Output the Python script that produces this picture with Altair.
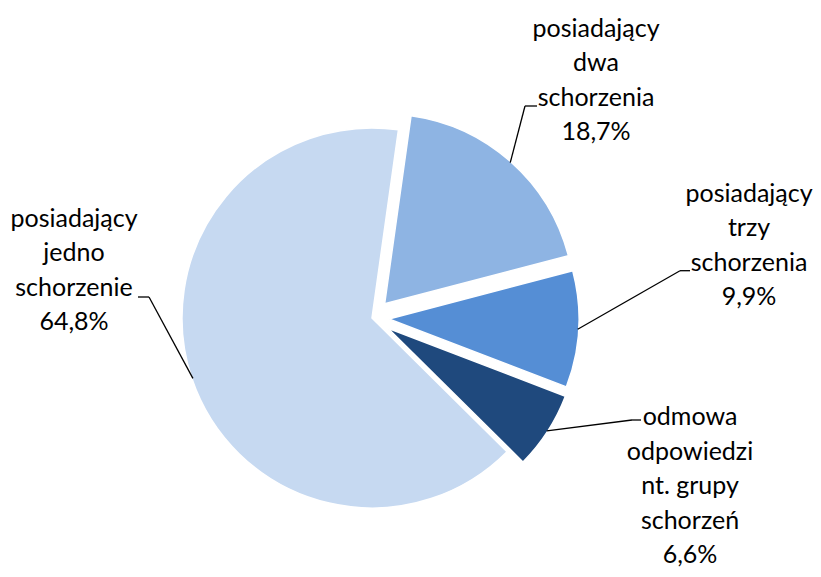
import altair as alt
import pandas as pd
import math

# --- data ---
categories = ["dwa", "trzy", "odmowa", "jedno"]
values = [18.7, 9.9, 6.6, 64.8]
labels = [
    "posiadający\ndwa\nschorzenia\n18,7%",
    "posiadający\ntrzy\nschorzenia\n9,9%",
    "odmowa\nodpowiedzi\nnt. grupy\nschorzeń\n6,6%",
    "posiadający\njedno\nschorzenie\n64,8%",
]
colors = ["#8EB4E3", "#558ED5", "#1F497D", "#C6D9F1"]

# --- layout (pixels inside the chart) ---
explode = [19, 17, 19, 0]
label_x = [588, 741, 682, 66]
label_y = [28.7, 193.7, 417, 218.7]
elbow_x = [517, 672, 624, 141]
elbow_y = [98, 262.7, 412, 289]
end_x = [529, 682, 633, 130]

CX, CY, R = 364, 310, 190
ROT = 0.1396  # start angle (~8 deg)

df = pd.DataFrame({
    "cat": categories, "value": values, "label": labels,
    "order": list(range(len(categories))),
    "explode": explode, "lx": label_x, "ly": label_y,
    "ex": elbow_x, "ey": elbow_y, "hx": end_x,
})

base = alt.Chart(df).transform_joinaggregate(
    total="sum(value)"
).transform_window(
    cum="sum(value)", sort=[alt.SortField("order")]
).transform_calculate(
    start="(datum.cum - datum.value) / datum.total",
    end="datum.cum / datum.total",
).transform_calculate(
    mid=f"{ROT} + 2 * PI * (datum.start + datum.end) / 2"
).transform_calculate(
    cx=f"{CX} + datum.explode * sin(datum.mid)",
    cy=f"{CY} - datum.explode * cos(datum.mid)",
    sx=f"{CX} + (datum.explode + {R} - 1) * sin(datum.mid)",
    sy=f"{CY} - (datum.explode + {R} - 1) * cos(datum.mid)",
)

pie = base.mark_arc(radius=R, stroke="white", strokeWidth=1.5).encode(
    theta=alt.Theta("start:Q", scale=alt.Scale(domain=[0, 1], range=[ROT, ROT + 2 * math.pi])),
    theta2="end:Q",
    x=alt.X("cx:Q", scale=None),
    y=alt.Y("cy:Q", scale=None),
    color=alt.Color("cat:N", scale=alt.Scale(domain=categories, range=colors), legend=None),
)

lead1 = base.mark_rule(color="black", strokeWidth=1.3).encode(
    x=alt.X("sx:Q", scale=None), y=alt.Y("sy:Q", scale=None),
    x2="ex:Q", y2="ey:Q",
)
lead2 = base.mark_rule(color="black", strokeWidth=1.3).encode(
    x=alt.X("ex:Q", scale=None), y=alt.Y("ey:Q", scale=None),
    x2="hx:Q",
)

text = base.mark_text(
    font="Lato", fontSize=25, lineBreak="\n", lineHeight=34.5,
    align="center", baseline="alphabetic", color="black",
).encode(
    x=alt.X("lx:Q", scale=None), y=alt.Y("ly:Q", scale=None),
    text="label:N",
)

chart = alt.layer(pie, lead1, lead2, text).properties(
    width=805, height=561, padding=0, autosize="none"
).configure_view(stroke=None)

chart.save("out.html", embed_options={"renderer": "svg", "actions": False})
